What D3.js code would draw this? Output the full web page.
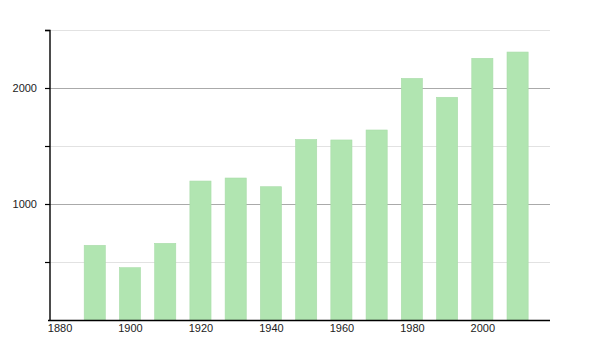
<!DOCTYPE html>
<html>
<head>
<meta charset="utf-8">
<script src="https://cdn.jsdelivr.net/npm/d3@7"></script>
<style>
  body { margin: 0; background: #fff; }
  svg text { font-family: "Liberation Sans", Arial, sans-serif; font-size: 11px; fill: #222; }
</style>
</head>
<body>
<div id="chart"></div>
<script>
const F_WIDTH = 600;
const F_HEIGHT = 350;
const MARGINS = {left: 50, right: 50, top: 30, bottom: 30};

const VIS_WIDTH = F_WIDTH - MARGINS.left - MARGINS.right;
const VIS_HEIGHT = F_HEIGHT - MARGINS.top - MARGINS.bottom;

// data
const YEARS = [1890, 1900, 1910, 1920, 1930, 1940, 1950, 1960, 1970, 1980, 1990, 2000, 2010];
const VALUES = [644, 451, 661, 1198, 1224, 1149, 1556, 1552, 1638, 2083, 1920, 2256, 2310];
const X_TICKS = [1880, 1900, 1920, 1940, 1960, 1980, 2000];
const Y_LABELS = [1000, 2000];
const Y_GRID = [500, 1000, 1500, 2000, 2500];

const FRAME = d3.select("#chart")
            .append("svg")
              .attr("width", F_WIDTH)
              .attr("height", F_HEIGHT);

const X_SCALE = d3.scaleLinear()
          .domain([1877.3, 2019.2])
          .range([0, VIS_WIDTH]);

const Y_SCALE = d3.scaleLinear()
          .domain([0, 2500])
          .range([VIS_HEIGHT, 0]);

const VIS = FRAME.append("g")
          .attr("transform", "translate(" + MARGINS.left + "," + MARGINS.top + ")");

// gridlines
VIS.append("g")
    .selectAll("line")
    .data(Y_GRID)
    .enter()
    .append("line")
      .attr("x1", 0)
      .attr("x2", VIS_WIDTH)
      .attr("y1", (d) => Math.round(Y_SCALE(d)) + 0.5)
      .attr("y2", (d) => Math.round(Y_SCALE(d)) + 0.5)
      .attr("stroke", (d) => (d % 1000 === 0 ? "#aaaaaa" : "#e2e2e2"))
      .attr("stroke-width", 1);

// bars
const BAR_W = X_SCALE(1886) - X_SCALE(1880);
VIS.append("g")
    .selectAll("rect")
    .data(YEARS)
    .enter()
    .append("rect")
      .attr("x", (d) => X_SCALE(d) - BAR_W / 2)
      .attr("y", (d, i) => Y_SCALE(VALUES[i]))
      .attr("width", BAR_W)
      .attr("height", (d, i) => VIS_HEIGHT - Y_SCALE(VALUES[i]))
      .attr("fill", "#b1e5b1")
      .attr("stroke", "#a9dca9")
      .attr("stroke-width", 0.6);

// y axis
const yAxis = VIS.append("g")
    .call(d3.axisLeft(Y_SCALE)
      .tickValues(Y_GRID)
      .tickSize(5)
      .tickPadding(8)
      .tickFormat((d) => (Y_LABELS.includes(d) ? d : "")));
yAxis.select(".domain").attr("stroke", "#000").attr("stroke-width", 1.4).attr("d", "M-5,0.5H0V" + VIS_HEIGHT);
yAxis.selectAll(".tick line").attr("stroke", "#000").attr("stroke-width", 1.2);

// x axis
const xAxis = VIS.append("g")
    .attr("transform", "translate(0," + VIS_HEIGHT + ")")
    .call(d3.axisBottom(X_SCALE)
      .tickValues(X_TICKS)
      .tickSize(0)
      .tickPadding(4)
      .tickFormat(d3.format("d")));
xAxis.select(".domain").attr("stroke", "#000").attr("stroke-width", 1.4).attr("d", "M-2,0.5H" + VIS_WIDTH);
</script>
</body>
</html>
